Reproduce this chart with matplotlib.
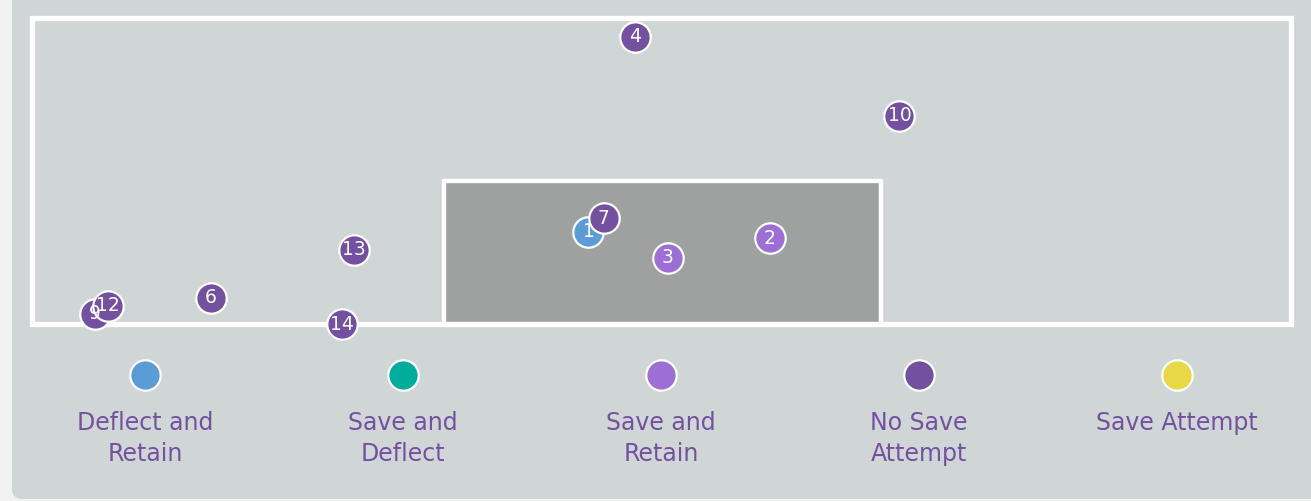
import matplotlib
matplotlib.use("Agg")
import matplotlib.pyplot as plt
from matplotlib.patches import FancyBboxPatch, Rectangle

# ---- data ----
shot_ids = ["1", "2", "3", "4", "6", "7", "9", "10", "12", "13", "14"]
shot_x = [44.2, 58.6, 50.5, 47.9, 14.2, 45.4, 5.0, 68.9, 6.0, 25.6, 24.6]
shot_y = [30.1, 28.1, 21.6, 93.8, 8.5, 34.6, 3.3, 68.0, 5.9, 24.2, 0.0]
shot_outcome = ["Deflect and Retain", "Save and Retain", "Save and Retain",
                "No Save Attempt", "No Save Attempt", "No Save Attempt",
                "No Save Attempt", "No Save Attempt", "No Save Attempt",
                "No Save Attempt", "No Save Attempt"]
legend_labels = ["Deflect and\nRetain", "Save and\nDeflect", "Save and\nRetain",
                 "No Save\nAttempt", "Save Attempt"]
legend_keys = ["Deflect and Retain", "Save and Deflect", "Save and Retain",
               "No Save Attempt", "Save Attempt"]
outcome_colors = {
    "Deflect and Retain": "#5b9bd6",
    "Save and Deflect": "#00ad9d",
    "Save and Retain": "#9d6fd6",
    "No Save Attempt": "#7350a0",
    "Save Attempt": "#e8d944",
}
# frame (0..100 both) and goal box in the same units
goal_x0, goal_x1, goal_h = 32.7, 67.4, 46.7

W, H = 1311, 501
fig = plt.figure(figsize=(W / 100, H / 100), dpi=100)
fig.patch.set_facecolor("#f2f2f2")

# background panel in pixel coords
bg = fig.add_axes([0, 0, 1, 1])
bg.set_xlim(0, W)
bg.set_ylim(H, 0)
bg.axis("off")
bg.add_patch(FancyBboxPatch((12, -20), 1330, 519, boxstyle="round,pad=0,rounding_size=10",
                            facecolor="#d0d6d6", edgecolor="none"))

# main axes: frame coords
ax = fig.add_axes([0, 0, 1, 1])
ax.patch.set_alpha(0)
ax.set_xlim(-32 / 12.59, 1279 / 12.59)
ax.set_ylim(-177 / 3.06, 324 / 3.06)
ax.axis("off")

ax.add_patch(Rectangle((0, 0), 100, 100, facecolor="none", edgecolor="white",
                       linewidth=3.8, joinstyle="miter", zorder=1))
ax.add_patch(Rectangle((goal_x0, 0), goal_x1 - goal_x0, goal_h, facecolor="#9ea1a0",
                       edgecolor="white", linewidth=3.2, joinstyle="round", zorder=2))

for sid, x, y, o in zip(shot_ids, shot_x, shot_y, shot_outcome):
    ax.scatter([x], [y], s=480, color=outcome_colors[o], edgecolor="white",
               linewidth=1.6, zorder=5)
    ax.text(x, y, sid, color="white", fontsize=13.5, ha="center", va="center",
            zorder=6)

# legend (pixel layout)
for i, (lab, key) in enumerate(zip(legend_labels, legend_keys)):
    cx = 145 + 258 * i
    bg.scatter([cx], [375], s=480, color=outcome_colors[key], edgecolor="white",
               linewidth=1.6, zorder=5)
    bg.text(cx, 411, lab, color="#7350a0", fontsize=17, ha="center", va="top",
            linespacing=1.38, zorder=6)

fig.savefig("out.png", dpi=100, facecolor=fig.get_facecolor())
